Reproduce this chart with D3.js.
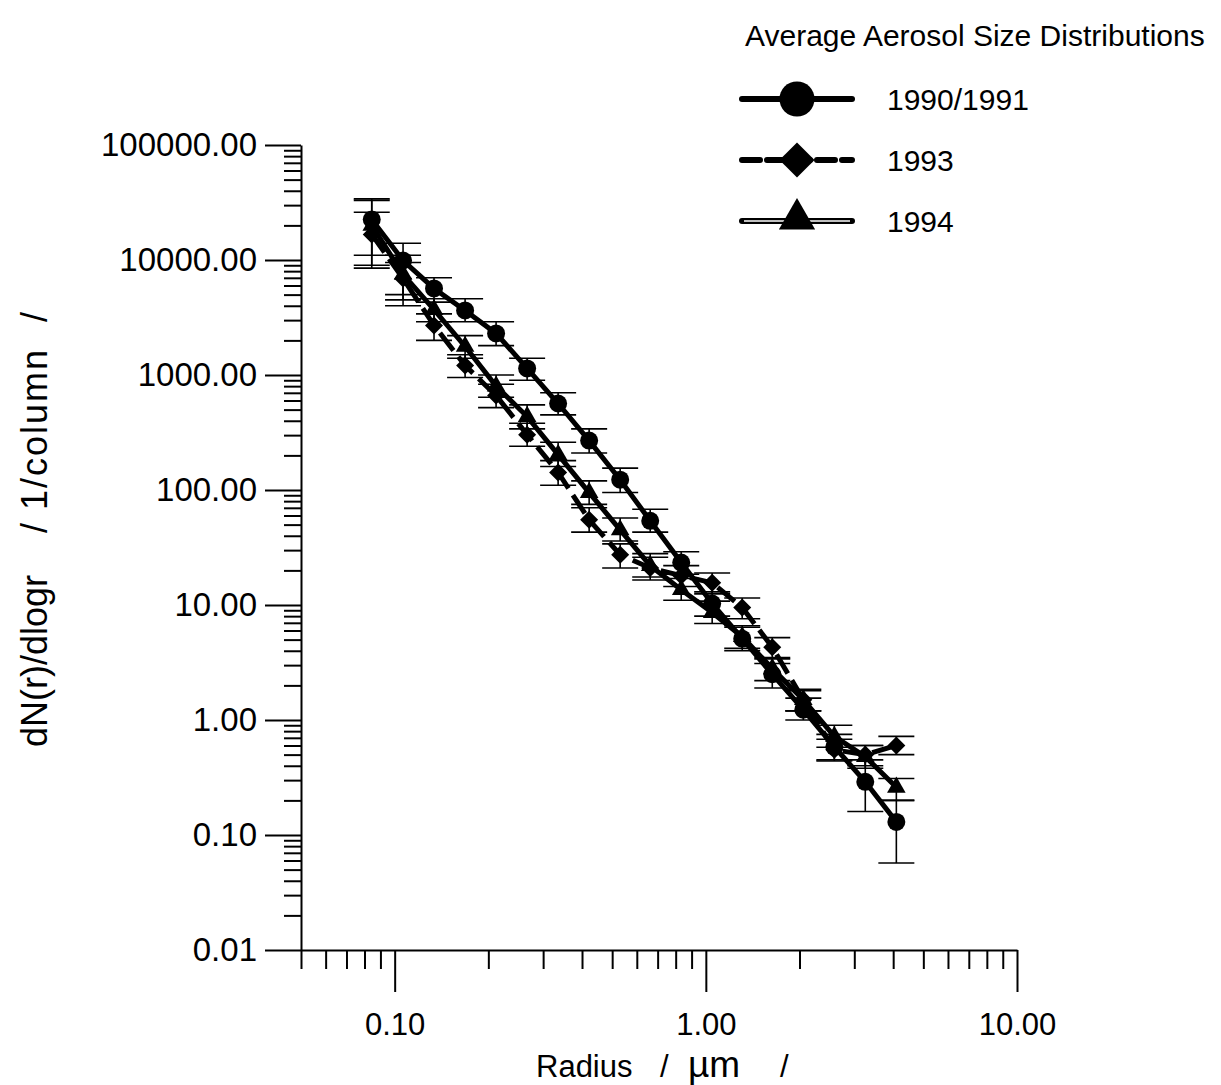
<!DOCTYPE html>
<html>
<head>
<meta charset="utf-8">
<script src="https://cdn.jsdelivr.net/npm/d3@7"></script>
<style>
  body { margin: 0; background: #fff; }
  text { font-family: "Liberation Sans", Arial, sans-serif; fill: #000; }
</style>
</head>
<body>
<script>
//#region DATA /////////////////////////////////////////////////////////////////

// radius of every size bin, in µm
const radius = [0.0844, 0.1064, 0.1338, 0.1684, 0.2118, 0.2665, 0.3352, 0.4217,
                0.5305, 0.6626, 0.8335, 1.048, 1.309, 1.635, 2.057, 2.588,
                3.254, 4.095];

// 1990/1991
const n9091    = [22500, 9900, 5660, 3640, 2300, 1140, 565, 269, 123, 54, 23.4,
                  10.3, 5.1, 2.5, 1.23, 0.585, 0.29, 0.13];
const n9091Hi  = [34000, 14000, 7000, 4600, 2900, 1400, 700, 340, 155, 68, 29,
                  13, 6.4, 3.1, 1.55, 0.75, 0.45, 0.2];
const n9091Lo  = [9000, 4000, 4300, 2900, 1800, 900, 450, 210, 95, 43, 18.5, 8,
                  4, 1.9, 1.0, 0.45, 0.16, 0.057];

// 1993
const n1993    = [16700, 6900, 2700, 1210, 663, 303, 142, 55, 27.4, 21, 18,
                  15.6, 9.5, 4.3, 1.5, 0.55, 0.5, 0.6];
const n1993Hi  = [26000, 9500, 3400, 1500, 830, 380, 180, 70, 34, 26, 22, 19,
                  11.5, 5.2, 1.8, 0.68, 0.6, 0.72];
const n1993Lo  = [8500, 4500, 2000, 950, 520, 240, 110, 43, 21, 16.5, 14.5,
                  12.5, 7.6, 3.4, 1.2, 0.44, 0.4, 0.5];

// 1994
const n1994    = [20000, 7500, 3700, 1770, 800, 435, 203, 95, 45, 22, 13.6, 8.6,
                  5.3, 2.8, 1.5, 0.72, 0.48, 0.26];
const n1994Hi  = [33000, 11000, 4600, 2200, 1000, 550, 260, 120, 57, 28, 17,
                  10.8, 6.6, 3.5, 1.85, 0.9, 0.6, 0.31];
const n1994Lo  = [11000, 5000, 2900, 1400, 640, 340, 160, 75, 36, 17.5, 11, 6.9,
                  4.2, 2.2, 1.2, 0.58, 0.38, 0.2];

const seriesNames = ["1990/1991", "1993", "1994"];

// axis ticks
const xMajor = [0.1, 1, 10];
const yMajor = [0.01, 0.1, 1, 10, 100, 1000, 10000, 100000];
const minorSteps = [2, 3, 4, 5, 6, 7, 8, 9];

//#endregion

//#region LAYOUT ///////////////////////////////////////////////////////////////

const WIDTH = 1221, HEIGHT = 1085;
const MARKER_AREA = { circle: 254, diamond: 162, triangle: 150 };
const LEGEND_SCALE = 3.8; // legend markers are about twice the size
const CAP_HALF = 18;

const svg = d3.select("body").append("svg")
    .attr("width", WIDTH).attr("height", HEIGHT);

const x = d3.scaleLog().domain([0.05, 10]).range([301, 1017]);
const y = d3.scaleLog().domain([0.01, 100000]).range([950, 145]);

const series = [
  { name: seriesNames[0], v: n9091, hi: n9091Hi, lo: n9091Lo,
    shape: "circle", dash: null },
  { name: seriesNames[1], v: n1993, hi: n1993Hi, lo: n1993Lo,
    shape: "diamond", dash: "22,8" },
  { name: seriesNames[2], v: n1994, hi: n1994Hi, lo: n1994Lo,
    shape: "triangle", dash: null }
];

//#endregion

//#region AXES /////////////////////////////////////////////////////////////////

function minorTicks(decades, scale)
{
  let [lo, hi] = scale.domain();
  let out = [];
  for (let d of decades)
    for (let s of minorSteps)
      if (d * s >= lo - 1e-9 && d * s <= hi) out.push(d * s);
  return out;
}

function drawAxes()
{
  let xMinor = [0.05, 0.06, 0.07, 0.08, 0.09].concat(minorTicks([0.1, 1], x));
  let yMinor = minorTicks([0.01, 0.1, 1, 10, 100, 1000, 10000], y);

  // minor ticks first, no labels
  svg.append("g")
      .attr("transform", "translate(0," + y(0.01) + ")")
      .call(d3.axisBottom(x).tickValues(xMinor).tickSize(19).tickFormat(""))
      .call(g => g.select(".domain").remove());
  svg.append("g")
      .attr("transform", "translate(" + x(0.05) + ",0)")
      .call(d3.axisLeft(y).tickValues(yMinor).tickSize(17).tickFormat(""))
      .call(g => g.select(".domain").remove());

  // major ticks with labels
  let gx = svg.append("g")
      .attr("transform", "translate(0," + y(0.01) + ")")
      .call(d3.axisBottom(x).tickValues(xMajor).tickSize(42).tickSizeOuter(0)
                .tickPadding(21).tickFormat(d3.format(".2f")));
  gx.selectAll("text").style("font-size", "31px");

  let gy = svg.append("g")
      .attr("transform", "translate(" + x(0.05) + ",0)")
      .call(d3.axisLeft(y).tickValues(yMajor).tickSize(36).tickSizeOuter(0)
                .tickPadding(8).tickFormat(d3.format(".2f")));
  gy.selectAll("text").style("font-size", "33px");

  svg.selectAll(".tick line, .domain")
      .attr("stroke", "#000").attr("stroke-width", 2);

  // y title, pieces placed along the rotated baseline
  let yt = svg.append("text")
      .attr("transform", "translate(47,0) rotate(-90)")
      .style("font-size", "36px");
  yt.append("tspan").attr("x", -747).text("dN(r)/dlogr");
  yt.append("tspan").attr("x", -533).text("/");
  yt.append("tspan").attr("x", -510).style("letter-spacing", "2px")
      .text("1/column");
  yt.append("tspan").attr("x", -322).text("/");

  // x title
  let xt = svg.append("text").attr("y", 1077).style("font-size", "31px");
  xt.append("tspan").attr("x", 536).text("Radius");
  xt.append("tspan").attr("x", 660).text("/");
  xt.append("tspan").attr("x", 688).style("font-size", "37px").text("µm");
  xt.append("tspan").attr("x", 780).text("/");
}

//#endregion

//#region MARKS ////////////////////////////////////////////////////////////////

function symbolPath(shape, area)
{
  if (shape === "circle") return d3.symbol(d3.symbolCircle, area)();
  if (shape === "triangle") return d3.symbol(d3.symbolTriangle, area)();
  return d3.symbol(d3.symbolSquare, area)();
}

function drawSeries(s)
{
  let pts = radius.map((r, i) => ({ r: r, v: s.v[i], hi: s.hi[i], lo: s.lo[i] }));
  let g = svg.append("g");

  // error bars
  let eb = g.selectAll(".err").data(pts).enter().append("g")
      .attr("stroke", "#000").attr("stroke-width", 1.6);
  eb.append("line")
      .attr("x1", d => x(d.r)).attr("x2", d => x(d.r))
      .attr("y1", d => y(d.hi)).attr("y2", d => y(d.lo));
  eb.append("line")
      .attr("x1", d => x(d.r) - CAP_HALF).attr("x2", d => x(d.r) + CAP_HALF)
      .attr("y1", d => y(d.hi)).attr("y2", d => y(d.hi));
  eb.append("line")
      .attr("x1", d => x(d.r) - CAP_HALF).attr("x2", d => x(d.r) + CAP_HALF)
      .attr("y1", d => y(d.lo)).attr("y2", d => y(d.lo));

  // connecting line
  let gen = d3.line().x(d => x(d.r)).y(d => y(d.v));
  g.append("path")
      .attr("d", gen(pts))
      .attr("fill", "none").attr("stroke", "#000").attr("stroke-width", 5)
      .attr("stroke-dasharray", s.dash);

  // markers
  g.selectAll(".mk").data(pts).enter().append("path")
      .attr("d", symbolPath(s.shape, MARKER_AREA[s.shape]))
      .attr("transform", d => "translate(" + x(d.r) + "," + y(d.v) + ")" +
                              (s.shape === "diamond" ? " rotate(45)" : ""))
      .attr("fill", "#000");
}

function drawLegend()
{
  svg.append("text")
      .attr("x", 745).attr("y", 46)
      .style("font-size", "30px")
      .text("Average Aerosol Size Distributions");

  let rowY = [99, 160, 221];
  series.forEach((s, i) =>
  {
    let g = svg.append("g").attr("transform", "translate(0," + rowY[i] + ")");
    g.append("line").attr("x1", 742).attr("x2", 852)
        .attr("stroke", "#000").attr("stroke-width", 6)
        .attr("stroke-linecap", "round")
        .attr("stroke-dasharray", s.dash ? "18,7" : null);
    if (i === 2)
      g.append("line").attr("x1", 744).attr("x2", 850)
          .attr("stroke", "#fff").attr("stroke-width", 1.6);
    g.append("path")
        .attr("d", symbolPath(s.shape, MARKER_AREA[s.shape] * LEGEND_SCALE))
        .attr("transform", "translate(797," + (i === 2 ? -2 : 0) + ")" +
                           (s.shape === "diamond" ? " rotate(45)" : ""))
        .attr("fill", "#000");
    g.append("text").attr("x", 887).attr("y", 11)
        .style("font-size", "30px").text(s.name);
  });
}

//#endregion

drawAxes();
series.forEach(drawSeries);
drawLegend();
</script>
</body>
</html>
